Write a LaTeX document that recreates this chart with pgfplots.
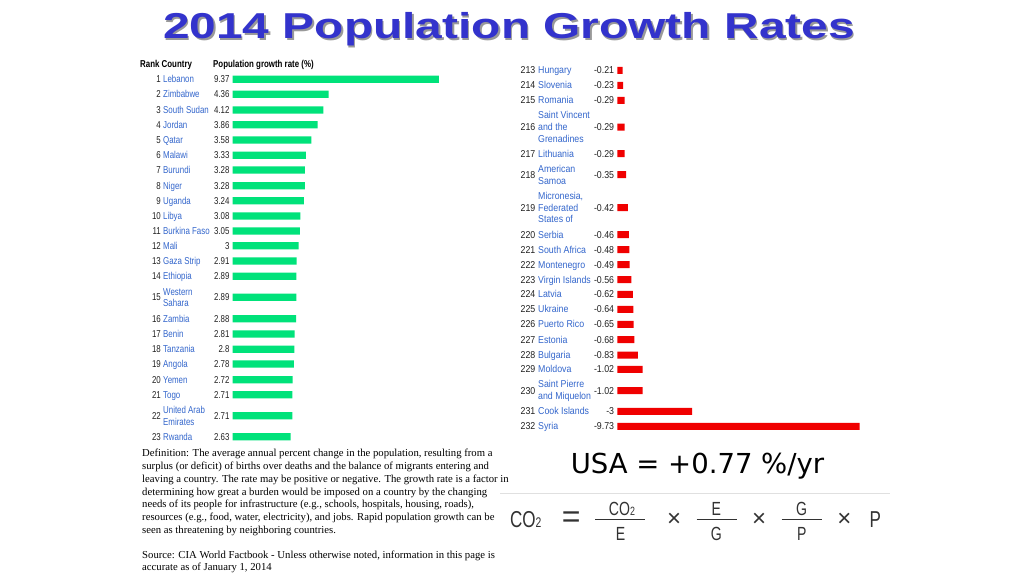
\documentclass[border=0pt]{standalone}
\usepackage{pgfplots}
\pgfplotsset{compat=1.18}
\usepackage{pgfplotstable}
\usepackage{fontspec}
\setmainfont{Liberation Serif}
\newfontfamily\tabL[FakeStretch=0.79]{Liberation Sans}
\newfontfamily\tabR[FakeStretch=0.88]{Liberation Sans}
\newfontfamily\titlefont[FakeStretch=1.33]{Liberation Sans}
\newfontfamily\formfont[FakeStretch=0.74]{Liberation Sans}
\newfontfamily\usafont{DejaVu Sans}
\newfontfamily\plainsans{Liberation Sans}

\definecolor{titleblue}{RGB}{51,51,204}
\definecolor{linkblue}{RGB}{51,102,204}
\definecolor{barGreen}{RGB}{0,226,122}
\definecolor{barRed}{RGB}{240,0,0}
\definecolor{txtgray}{RGB}{34,34,34}
\definecolor{formgray}{RGB}{50,50,50}

% y = pixel row of bar centre (from top), v = growth rate
\pgfplotstableread{
y v lab
79.3 9.37 9.37
94.3 4.36 4.36
110.0 4.12 4.12
124.7 3.86 3.86
140.0 3.58 3.58
155.3 3.33 3.33
170.0 3.28 3.28
185.7 3.28 3.28
200.7 3.24 3.24
216.0 3.08 3.08
231.0 3.05 3.05
245.7 3.00 3
261.0 2.91 2.91
276.3 2.89 2.89
297.3 2.89 2.89
318.7 2.88 2.88
334.0 2.81 2.81
349.3 2.80 2.8
364.0 2.78 2.78
379.7 2.72 2.72
394.7 2.71 2.71
415.7 2.71 2.71
436.7 2.63 2.63
}\lefttab

\pgfplotstableread{
y v lab
70.3 -0.21 -0.21
85.3 -0.23 -0.23
100.3 -0.29 -0.29
127.0 -0.29 -0.29
153.7 -0.29 -0.29
174.7 -0.35 -0.35
207.7 -0.42 -0.42
234.7 -0.46 -0.46
249.7 -0.48 -0.48
264.7 -0.49 -0.49
279.7 -0.56 -0.56
294.3 -0.62 -0.62
309.3 -0.64 -0.64
324.3 -0.65 -0.65
339.7 -0.68 -0.68
355.0 -0.83 -0.83
369.3 -1.02 -1.02
390.7 -1.02 -1.02
411.3 -3.00 -3
426.3 -9.73 -9.73
}\righttab

\newcommand\tabLfont{\tabL\fontsize{10}{11}\selectfont}
\newcommand\tabRfont{\tabR\fontsize{10}{11}\selectfont}
\newcommand\rkL[2]{\node[anchor=base east,inner sep=0pt,text=txtgray,font=\tabLfont] at (161,#2+3.6) {#1};}
\newcommand\nmL[2]{\node[anchor=base west,inner sep=0pt,text=linkblue,font=\tabLfont] at (163,#2+3.6) {#1};}
\newcommand\rkR[2]{\node[anchor=base east,inner sep=0pt,text=txtgray,font=\tabRfont] at (535.5,#2+3.6) {#1};}
\newcommand\nmR[2]{\node[anchor=base west,inner sep=0pt,text=linkblue,font=\tabRfont] at (538,#2+3.6) {#1};}
\newcommand\defline[2]{\node[anchor=base west,inner sep=0pt,text=black,font=\fontsize{10.7}{12}\selectfont] at (142,#1) {#2};}
\newcommand\fm[4]{\node[anchor=base,inner sep=0pt,text=formgray,font=\formfont\fontsize{#3}{#3}\selectfont] at (#1,#2) {#4};}

\begin{document}
\begin{tikzpicture}
\fill[white] (0,0) rectangle (1024pt,576pt);

% left table bars
\begin{axis}[at={(0pt,0pt)}, anchor=south west, width=1024pt, height=576pt,
  scale only axis, hide axis, clip=false,
  xmin=-10.577, xmax=35.968, ymin=0, ymax=576, y dir=reverse]
\addplot[xbar, bar width=7.3pt, bar shift=0pt, fill=barGreen, draw=none] table[x=v, y=y] {\lefttab};
\addplot[draw=none, mark=none, nodes near coords, point meta=explicit symbolic,
  nodes near coords style={anchor=east, inner sep=0pt, xshift=-3pt, text=txtgray, font=\tabLfont}]
  table[x expr=0, y=y, meta=lab] {\lefttab};
\end{axis}

% right table bars
\begin{axis}[at={(0pt,0pt)}, anchor=south west, width=1024pt, height=576pt,
  scale only axis, hide axis, clip=false,
  xmin=-16.333, xmax=24.791, x dir=reverse, ymin=0, ymax=576, y dir=reverse]
\addplot[xbar, bar width=7pt, bar shift=0pt, fill=barRed, draw=none] table[x=v, y=y] {\righttab};
\addplot[draw=none, mark=none, nodes near coords, point meta=explicit symbolic,
  nodes near coords style={anchor=east, inner sep=0pt, xshift=-3pt, text=txtgray, font=\tabRfont}]
  table[x expr=0, y=y, meta=lab] {\righttab};
\end{axis}

\begin{scope}[shift={(0pt,576pt)}, x=1pt, y=-1pt]
% title
\node[anchor=base, inner sep=0pt, text=black!40, font=\titlefont\bfseries\fontsize{36}{40}\selectfont] at (510.5,40.5) {2014 Population Growth Rates};
\node[anchor=base, inner sep=0pt, text=titleblue, font=\titlefont\bfseries\fontsize{36}{40}\selectfont] at (509,39) {2014 Population Growth Rates};

% headers
\node[anchor=base west, inner sep=0pt, text=black, font=\tabL\bfseries\fontsize{10}{11}\selectfont] at (140,67.6) {Rank Country};
\node[anchor=base west, inner sep=0pt, text=black, font=\tabL\bfseries\fontsize{10}{11}\selectfont] at (213,67.6) {Population growth rate (\%)};

% left rows
\rkL{1}{79.3}\nmL{Lebanon}{79.3}
\rkL{2}{94.3}\nmL{Zimbabwe}{94.3}
\rkL{3}{110}\nmL{South Sudan}{110}
\rkL{4}{124.7}\nmL{Jordan}{124.7}
\rkL{5}{140}\nmL{Qatar}{140}
\rkL{6}{155.3}\nmL{Malawi}{155.3}
\rkL{7}{170}\nmL{Burundi}{170}
\rkL{8}{185.7}\nmL{Niger}{185.7}
\rkL{9}{200.7}\nmL{Uganda}{200.7}
\rkL{10}{216}\nmL{Libya}{216}
\rkL{11}{231}\nmL{Burkina Faso}{231}
\rkL{12}{245.7}\nmL{Mali}{245.7}
\rkL{13}{261}\nmL{Gaza Strip}{261}
\rkL{14}{276.3}\nmL{Ethiopia}{276.3}
\rkL{15}{297.3}\nmL{Western}{291.7}\nmL{Sahara}{303.3}
\rkL{16}{318.7}\nmL{Zambia}{318.7}
\rkL{17}{334}\nmL{Benin}{334}
\rkL{18}{349.3}\nmL{Tanzania}{349.3}
\rkL{19}{364}\nmL{Angola}{364}
\rkL{20}{379.7}\nmL{Yemen}{379.7}
\rkL{21}{394.7}\nmL{Togo}{394.7}
\rkL{22}{415.7}\nmL{United Arab}{410}\nmL{Emirates}{421.7}
\rkL{23}{436.7}\nmL{Rwanda}{436.7}

% right rows
\rkR{213}{70.3}\nmR{Hungary}{70.3}
\rkR{214}{85.3}\nmR{Slovenia}{85.3}
\rkR{215}{100.3}\nmR{Romania}{100.3}
\rkR{216}{127}\nmR{Saint Vincent}{115.3}\nmR{and the}{127}\nmR{Grenadines}{138.7}
\rkR{217}{153.7}\nmR{Lithuania}{153.7}
\rkR{218}{174.7}\nmR{American}{169.3}\nmR{Samoa}{181}
\rkR{219}{207.7}\nmR{Micronesia,}{196}\nmR{Federated}{207.7}\nmR{States of}{219.3}
\rkR{220}{234.7}\nmR{Serbia}{234.7}
\rkR{221}{249.7}\nmR{South Africa}{249.7}
\rkR{222}{264.7}\nmR{Montenegro}{264.7}
\rkR{223}{279.7}\nmR{Virgin Islands}{279.7}
\rkR{224}{294.3}\nmR{Latvia}{294.3}
\rkR{225}{309.3}\nmR{Ukraine}{309.3}
\rkR{226}{324.3}\nmR{Puerto Rico}{324.3}
\rkR{227}{339.7}\nmR{Estonia}{339.7}
\rkR{228}{355}\nmR{Bulgaria}{355}
\rkR{229}{369.3}\nmR{Moldova}{369.3}
\rkR{230}{390.7}\nmR{Saint Pierre}{384.3}\nmR{and Miquelon}{396}
\rkR{231}{411.3}\nmR{Cook Islands}{411.3}
\rkR{232}{426.3}\nmR{Syria}{426.3}

% definition text
\defline{456.3}{Definition: The average annual percent change in the population, resulting from a}
\defline{469.2}{surplus (or deficit) of births over deaths and the balance of migrants entering and}
\defline{482.1}{leaving a country. The rate may be positive or negative. The growth rate is a factor in}
\defline{495.0}{determining how great a burden would be imposed on a country by the changing}
\defline{507.9}{needs of its people for infrastructure (e.g., schools, hospitals, housing, roads),}
\defline{520.8}{resources (e.g., food, water, electricity), and jobs. Rapid population growth can be}
\defline{533.7}{seen as threatening by neighboring countries.}
\defline{558.0}{Source: CIA World Factbook - Unless otherwise noted, information in this page is}
\defline{570.5}{accurate as of January 1, 2014}

% USA
\node[anchor=base, inner sep=0pt, text=black, font=\usafont\fontsize{27.5}{30}\selectfont] at (697.5,473.3) {USA = +0.77 \%/yr};

% formula
\draw[black!12, line width=0.8pt] (500,493) -- (890,493);
\node[anchor=base west, inner sep=0pt, text=formgray, font=\formfont\fontsize{23}{23}\selectfont] at (510,527.3) {CO{\fontsize{14}{14}\selectfont 2}};
\node[anchor=center, inner sep=0pt, text=formgray, font=\plainsans\fontsize{32}{32}\selectfont] at (571.3,519.5) {=};
\draw[formgray, line width=1.1pt] (595,519.3) -- (645,519.3);
\fm{622}{515}{19}{CO{\fontsize{12}{12}\selectfont 2}}
\fm{620.5}{540.5}{19}{E}
\node[anchor=center, inner sep=0pt, text=formgray, font=\plainsans\fontsize{24}{24}\selectfont] at (674,520) {×};
\draw[formgray, line width=1.1pt] (696.7,519.3) -- (736.7,519.3);
\fm{716.3}{515}{19}{E}
\fm{716.3}{540.5}{19}{G}
\node[anchor=center, inner sep=0pt, text=formgray, font=\plainsans\fontsize{24}{24}\selectfont] at (759,520) {×};
\draw[formgray, line width=1.1pt] (781.7,519.3) -- (821.7,519.3);
\fm{801.7}{515}{19}{G}
\fm{801.7}{540.5}{19}{P}
\node[anchor=center, inner sep=0pt, text=formgray, font=\plainsans\fontsize{24}{24}\selectfont] at (844.3,520) {×};
\node[anchor=base west, inner sep=0pt, text=formgray, font=\formfont\fontsize{23}{23}\selectfont] at (869.5,527.3) {P};
\end{scope}
\end{tikzpicture}
\end{document}
